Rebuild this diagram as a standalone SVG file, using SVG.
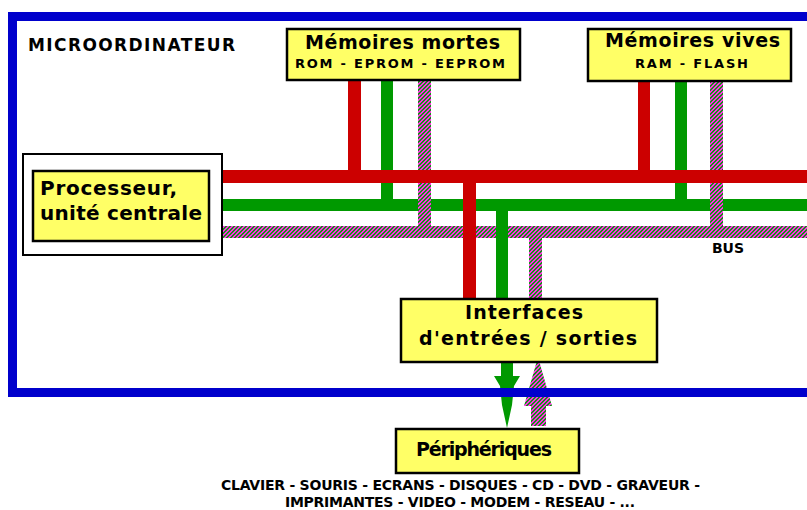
<svg xmlns="http://www.w3.org/2000/svg" width="807" height="510" viewBox="0 0 807 510">
<defs>
<pattern id="hatch" patternUnits="userSpaceOnUse" x="0" y="0" width="4" height="4">
<rect x="0" y="0" width="4" height="4" fill="#ff33e6" shape-rendering="crispEdges"/>
<path d="M3 0h1v1h-1zM0 0h1v1h-1zM2 1h2v1h-2zM1 2h2v1h-2zM0 3h2v1h-2z" fill="#198c19" shape-rendering="crispEdges"/>
</pattern>
<style>
.box{fill:#ffff66;stroke:#000;stroke-width:2.5}
.t{font-family:"DejaVu Sans","Liberation Sans",sans-serif;font-weight:bold;fill:#000}
.big{font-size:19px}
.small{font-size:13px}
.red{fill:#cc0000}
.grn{fill:#009900}
.hat{fill:url(#hatch)}
</style>
</defs>
<rect width="807" height="510" fill="#fff"/>
<g id="connectors">
<rect class="grn" x="222" y="199" width="585" height="12"/>
<rect class="hat" x="222" y="226" width="585" height="12"/>
<rect class="hat" x="418" y="80" width="13" height="158"/>
<rect class="hat" x="710" y="80" width="13" height="158"/>
<rect class="grn" x="381" y="80" width="12" height="131"/>
<rect class="grn" x="675" y="80" width="12" height="131"/>
<rect class="red" x="222" y="170" width="585" height="13"/>
<rect class="red" x="348" y="80" width="13" height="103"/>
<rect class="red" x="638" y="80" width="12" height="103"/>
<rect class="hat" x="529" y="226" width="13" height="75"/>
<rect class="grn" x="496" y="199" width="12" height="102"/>
<rect class="red" x="463" y="170" width="13" height="131"/>
<polygon class="grn" points="501,361 513,361 513,376 520,376 514,386 512,405 507,428 502,405 500,386 494,376 501,376"/>
<polygon class="hat" points="538,357 552,406 546,406 546,426 531,426 531,406 524,406"/>
</g>
<g id="microordinateur">
<rect x="12.5" y="16.5" width="820" height="376" fill="none" stroke="#0000cc" stroke-width="9"/>
<text class="t" x="28" y="51" font-size="17" textLength="207">MICROORDINATEUR</text>
</g>
<g id="memoires-mortes">
<rect class="box" x="287" y="29" width="233" height="51"/>
<text class="t big" x="305" y="49" textLength="195">Mémoires mortes</text>
<text class="t small" x="295" y="68" textLength="210">ROM - EPROM - EEPROM</text>
</g>
<g id="memoires-vives">
<rect class="box" x="588" y="29" width="203" height="52"/>
<text class="t big" x="605" y="47" textLength="175">Mémoires vives</text>
<text class="t small" x="635" y="68" textLength="113">RAM - FLASH</text>
</g>
<g id="processeur">
<rect x="23" y="154" width="199" height="101" fill="#fff" stroke="#000" stroke-width="2"/>
<rect class="box" x="33" y="171" width="176" height="70" stroke-width="2"/>
<text class="t" x="40" y="195" font-size="20" textLength="137">Processeur,</text>
<text class="t" x="40" y="220" font-size="20" textLength="162">unité centrale</text>
</g>
<g id="bus-label">
<text class="t" x="712" y="253" font-size="14" textLength="32">BUS</text>
</g>
<g id="interfaces">
<rect class="box" x="401" y="299" width="256" height="63"/>
<text class="t big" x="465" y="319" textLength="118">Interfaces</text>
<text class="t big" x="419" y="345" textLength="218">d'entrées / sorties</text>
</g>
<g id="peripheriques">
<rect class="box" x="396" y="429" width="183" height="44"/>
<text class="t big" x="416" y="456" textLength="136">Périphériques</text>
<text class="t" x="221" y="490" font-size="14" textLength="479">CLAVIER - SOURIS - ECRANS - DISQUES - CD - DVD - GRAVEUR -</text>
<text class="t" x="285" y="507" font-size="14" textLength="350">IMPRIMANTES - VIDEO - MODEM - RESEAU - ...</text>
</g>
</svg>
